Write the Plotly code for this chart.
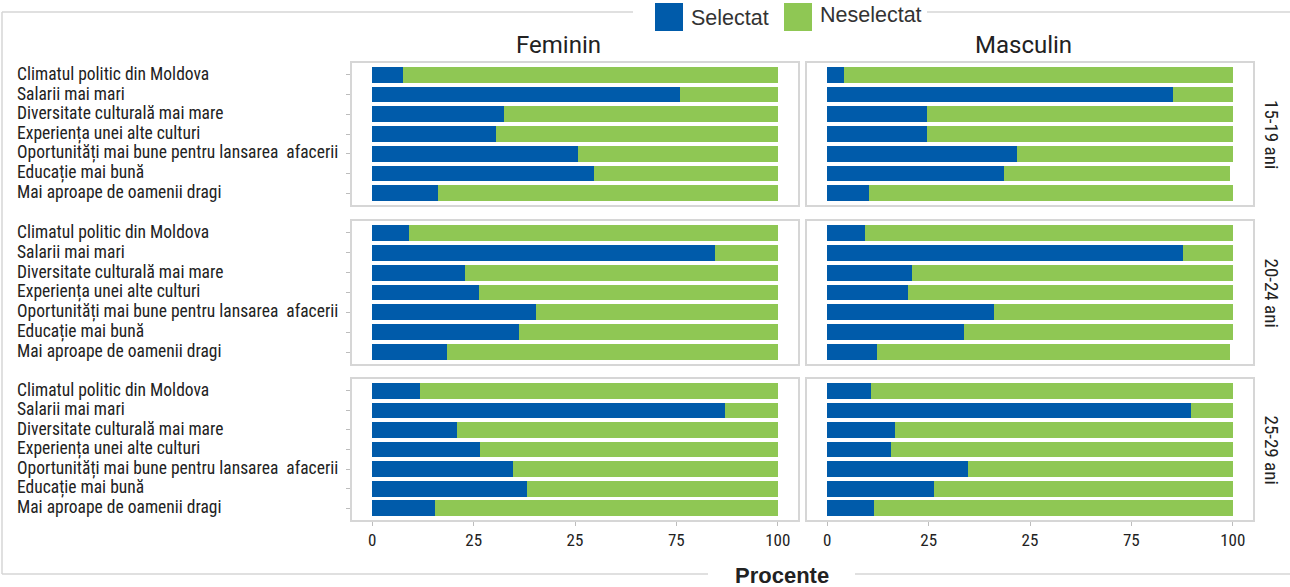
import plotly.graph_objects as go

# motive de plecare, in ordinea de sus in jos
categorii = [
    "Climatul politic din Moldova",
    "Salarii mai mari",
    "Diversitate culturală mai mare",
    "Experiența unei alte culturi",
    "Oportunități mai bune pentru lansarea  afacerii",
    "Educație mai bună",
    "Mai aproape de oamenii dragi",
]
sexe = ["Feminin", "Masculin"]
grupe_varsta = ["15-19 ani", "20-24 ani", "25-29 ani"]
tick_vals = [0, 25, 50, 75, 100]
tick_text = ["0", "25", "25", "75", "100"]

# procente "Selectat"
sel_fem_15_19 = [7.6, 75.9, 32.5, 30.5, 50.7, 54.7, 16.3]
sel_masc_15_19 = [4.2, 85.2, 24.7, 24.7, 46.9, 43.7, 10.4]
sel_fem_20_24 = [9.1, 84.5, 22.9, 26.4, 40.4, 36.2, 18.5]
sel_masc_20_24 = [9.4, 87.7, 21.0, 20.0, 41.0, 33.8, 12.3]
sel_fem_25_29 = [11.8, 86.9, 20.9, 26.6, 34.7, 38.2, 15.5]
sel_masc_25_29 = [10.9, 89.6, 16.8, 15.6, 34.8, 26.2, 11.6]

# procente "Neselectat"
nes_fem_15_19 = [92.4, 24.1, 67.5, 69.5, 49.3, 45.3, 83.7]
nes_masc_15_19 = [95.8, 14.8, 75.3, 75.3, 53.1, 55.6, 89.6]
nes_fem_20_24 = [90.9, 15.5, 77.1, 73.6, 59.6, 63.8, 81.5]
nes_masc_20_24 = [90.6, 12.3, 79.0, 80.0, 59.0, 66.2, 87.0]
nes_fem_25_29 = [88.2, 13.1, 79.1, 73.4, 65.3, 61.8, 84.5]
nes_masc_25_29 = [89.1, 10.4, 83.2, 84.4, 65.2, 73.8, 88.4]

panouri = [
    [(sel_fem_15_19, nes_fem_15_19), (sel_masc_15_19, nes_masc_15_19)],
    [(sel_fem_20_24, nes_fem_20_24), (sel_masc_20_24, nes_masc_20_24)],
    [(sel_fem_25_29, nes_fem_25_29), (sel_masc_25_29, nes_masc_25_29)],
]

W, H = 1290, 587
ALBASTRU = "#005BAA"
VERDE = "#8FC754"
GRI = "#d6d6d6"
FONT_COND = "Roboto Condensed, Liberation Sans Narrow, DejaVu Sans Condensed, Roboto, sans-serif"
FONT_SANS = "Liberation Sans, Arial, sans-serif"

col_px = [(352, 798), (807, 1253)]
row_px = [(63, 205), (221, 364), (379, 520)]
titlu_x = [558, 1023]


def px_x(v):
    return v / W


def px_y(v):
    return 1 - v / H


fig = go.Figure()
layout = {}
annotations = []
shapes = []

for r, rand in enumerate(panouri):
    for c, (sel, nes) in enumerate(rand):
        i = r * 2 + c + 1
        xa = "x" if i == 1 else f"x{i}"
        ya = "y" if i == 1 else f"y{i}"
        fig.add_trace(go.Bar(x=sel, y=categorii, orientation="h", name="Selectat",
                             marker=dict(color=ALBASTRU, line_width=0),
                             xaxis=xa, yaxis=ya, showlegend=False))
        fig.add_trace(go.Bar(x=nes, y=categorii, orientation="h", name="Neselectat",
                             marker=dict(color=VERDE, line_width=0),
                             xaxis=xa, yaxis=ya, showlegend=False))
        x0, x1 = col_px[c]
        y0, y1 = row_px[r]
        layout[f"xaxis{i}"] = dict(
            domain=[px_x(x0), px_x(x1)], anchor=ya, range=[-5, 105],
            showgrid=False, zeroline=False, showline=True, mirror=True,
            linecolor=GRI, linewidth=1.5,
            tickvals=tick_vals, ticktext=tick_text,
            showticklabels=(r == 2), ticks="outside" if r == 2 else "",
            ticklen=4, tickcolor="#bdbdbd",
            tickfont=dict(family=FONT_COND, size=17, color="#222"),
        )
        layout[f"yaxis{i}"] = dict(
            domain=[px_y(y1), px_y(y0)], anchor=xa,
            categoryorder="array", categoryarray=categorii,
            range=[6.6, -0.6], showgrid=False, zeroline=False,
            showline=True, mirror=True, linecolor=GRI, linewidth=1.5,
            showticklabels=False, ticks="outside" if c == 0 else "",
            ticklen=4, tickcolor="#bdbdbd",
        )
        if c == 0:
            for cat in categorii:
                annotations.append(dict(
                    x=px_x(15), xref="paper", xanchor="left",
                    y=cat, yref=ya, yanchor="middle", yshift=1,
                    text=cat, showarrow=False,
                    font=dict(family=FONT_COND, size=17.5, color="#222"),
                ))

# titluri de coloana si de rand
for c, s in enumerate(sexe):
    annotations.append(dict(
        x=px_x(titlu_x[c]), y=px_y(45), xref="paper", yref="paper",
        text=s, showarrow=False, xanchor="center", yanchor="middle",
        font=dict(family="Roboto, sans-serif", size=24, color="#222"),
    ))
for r, g in enumerate(grupe_varsta):
    annotations.append(dict(
        x=px_x(1271), y=px_y((row_px[r][0] + row_px[r][1]) / 2), xref="paper", yref="paper",
        text=g, showarrow=False, textangle=90, xanchor="center", yanchor="middle",
        font=dict(family=FONT_COND, size=19, color="#222"),
    ))

annotations.append(dict(
    x=px_x(782), y=px_y(575), xref="paper", yref="paper", text="<b>Procente</b>",
    showarrow=False, xanchor="center", yanchor="middle",
    font=dict(family=FONT_SANS, size=22, color="#222"),
))

# legenda desenata manual
for x0, culoare, text, ty in [(655, ALBASTRU, "Selectat", 18), (784, VERDE, "Neselectat", 15)]:
    shapes.append(dict(type="rect", xref="paper", yref="paper",
                       x0=px_x(x0), x1=px_x(x0 + 28), y0=px_y(31), y1=px_y(3),
                       fillcolor=culoare, line_width=0))
    annotations.append(dict(
        x=px_x(x0 + 34), y=px_y(ty), xref="paper", yref="paper", text=text,
        showarrow=False, xanchor="left", yanchor="middle",
        font=dict(family=FONT_SANS, size=21.5, color="#333"),
    ))

# chenarul exterior cu intreruperi pentru legenda si titlul axei
linie = dict(color=GRI, width=1.5)
for (xa0, ya0, xa1, ya1) in [
    (2, 12, 633, 12), (927, 12, W + 5, 12),
    (2, 12, 2, 574),
    (2, 574, 708, 574), (855, 574, W + 5, 574),
]:
    shapes.append(dict(type="line", xref="paper", yref="paper",
                       x0=px_x(xa0), y0=px_y(ya0), x1=px_x(xa1), y1=px_y(ya1), line=linie))

fig.update_layout(
    width=W, height=H,
    margin=dict(l=0, r=0, t=0, b=0),
    barmode="stack", bargap=0.2,
    plot_bgcolor="white", paper_bgcolor="white",
    annotations=annotations, shapes=shapes,
    **layout,
)

# pagina are margine implicita de 8px; o scoatem ca figura sa umple fereastra
fig.write_html(
    "out.html",
    config={"displayModeBar": False},
    post_script="document.body.style.margin='0px';document.body.style.overflow='hidden';",
)
